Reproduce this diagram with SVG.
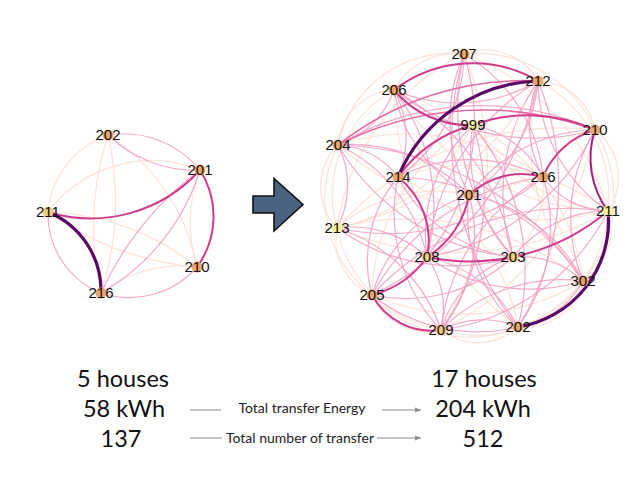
<svg xmlns="http://www.w3.org/2000/svg" width="639" height="479" viewBox="0 0 639 479">
<defs>
<style>
.e{fill:none;stroke-linecap:round}
.fa{stroke:#fbd9cc;stroke-width:1.2;opacity:.75}
.pk{stroke:#f09cc2;stroke-width:1.2;opacity:.85}
.mp{stroke:#e46aa4;stroke-width:1.6}
.mg{stroke:#d03c8d;stroke-width:2}
.pu{stroke:#a3207f;stroke-width:2}
.dk{stroke:#5a0866;stroke-width:3.2}
.or{fill:#eca66b}
.lt{fill:#f2cc86}
.ye{fill:#f7f19c}
.lbl{font-family:"Liberation Sans",Arial,sans-serif;font-size:15px;fill:#111;text-anchor:middle}
.big{font-family:Lato,"Open Sans",sans-serif;font-size:23.5px;fill:#111;text-anchor:middle}
.sm{font-family:Lato,"Open Sans",sans-serif;font-size:14px;fill:#222;text-anchor:middle}
.gl{stroke:#8c8c8c;stroke-width:1;fill:none}
</style>
<marker id="ah" viewBox="0 0 10 10" refX="10" refY="5" markerWidth="6" markerHeight="6" orient="auto" markerUnits="userSpaceOnUse">
<path d="M0 1 L10 5 L0 9 Z" fill="#8c8c8c"/>
</marker>
</defs>
<rect width="639" height="479" fill="#fff"/>

<g id="edges">
<g id="small-edges" class="e">
<path class="fa" d="M108 135 A90 90 0 0 0 48 212"/>
<path class="fa" d="M108 135 A300 300 0 0 0 101 293"/>
<path class="fa" d="M108 135 A300 300 0 0 1 101 293"/>
<path class="fa" d="M108 135 A200 200 0 0 1 197 267"/>
<path class="fa" d="M48 212 A130 130 0 0 1 200 170"/>
<path class="fa" d="M48 212 A300 300 0 0 0 197 267"/>
<path class="fa" d="M48 212 A250 250 0 0 1 197 267"/>
<path class="fa" d="M101 293 A130 130 0 0 1 197 267"/>
<path class="fa" d="M200 170 A150 150 0 0 0 197 267"/>
<path class="pk" d="M108 135 A99 99 0 0 1 200 170"/>
<path class="pk" d="M108 135 A125 125 0 0 0 200 170"/>
<path class="pk" d="M48 212 A85 85 0 0 0 101 293"/>
<path class="pk" d="M101 293 A215 215 0 0 0 200 170"/>
<path class="pk" d="M101 293 A320 320 0 0 1 200 170"/>
<path class="pk" d="M101 293 A90 90 0 0 0 197 267"/>
<path class="mg" d="M48 212 A147 147 0 0 0 200 170"/>
<path class="mg" d="M200 170 A86 86 0 0 1 197 267"/>
<path class="dk" d="M48 212 A85 85 0 0 1 101 293"/>
</g>
<g id="big-edges" class="e">
<path class="fa" d="M464 54 A70 70 0 0 0 394 90"/>
<path class="fa" d="M394 90 A60 60 0 0 0 338 145"/>
<path class="fa" d="M338 145 A60 60 0 0 0 337 228"/>
<path class="fa" d="M337 228 A60 60 0 0 0 372 295"/>
<path class="fa" d="M372 295 A60 60 0 0 0 441 330"/>
<path class="fa" d="M441 330 A60 60 0 0 0 518 327"/>
<path class="fa" d="M518 327 A60 60 0 0 0 583 281"/>
<path class="fa" d="M583 281 A60 60 0 0 0 608 211"/>
<path class="fa" d="M608 211 A60 60 0 0 0 595 130"/>
<path class="fa" d="M595 130 A60 60 0 0 0 538 81"/>
<path class="fa" d="M538 81 A60 60 0 0 0 464 54"/>
<path class="fa" d="M464 54 A115 115 0 0 0 338 145"/>
<path class="fa" d="M394 90 A120 120 0 0 0 337 228"/>
<path class="fa" d="M338 145 A120 120 0 0 0 372 295"/>
<path class="fa" d="M337 228 A130 130 0 0 0 441 330"/>
<path class="fa" d="M372 295 A130 130 0 0 0 518 327"/>
<path class="fa" d="M441 330 A130 130 0 0 0 583 281"/>
<path class="fa" d="M518 327 A130 130 0 0 0 608 211"/>
<path class="fa" d="M583 281 A130 130 0 0 0 595 130"/>
<path class="fa" d="M608 211 A130 130 0 0 0 538 81"/>
<path class="fa" d="M595 130 A130 130 0 0 0 464 54"/>
<path class="fa" d="M538 81 A130 130 0 0 0 394 90"/>
<path class="fa" d="M464 54 A230 230 0 0 1 608 211"/>
<path class="fa" d="M464 54 A230 230 0 0 0 337 228"/>
<path class="fa" d="M538 81 A300 300 0 0 1 337 228"/>
<path class="fa" d="M538 81 A220 220 0 0 0 583 281"/>
<path class="fa" d="M394 90 A300 300 0 0 1 583 281"/>
<path class="fa" d="M394 90 A260 260 0 0 0 608 211"/>
<path class="fa" d="M473 125 A200 200 0 0 1 337 228"/>
<path class="fa" d="M473 125 A180 180 0 0 0 608 211"/>
<path class="fa" d="M473 125 A200 200 0 0 0 372 295"/>
<path class="fa" d="M398 177 A230 230 0 0 1 608 211"/>
<path class="fa" d="M337 228 A300 300 0 0 0 608 211"/>
<path class="fa" d="M337 228 A280 280 0 0 1 583 281"/>
<path class="fa" d="M427 257 A170 170 0 0 1 543 177"/>
<path class="fa" d="M513 257 A100 100 0 0 0 543 177"/>
<path class="fa" d="M469 195 A150 150 0 0 0 337 228"/>
<path class="fa" d="M469 195 A90 90 0 0 1 513 257"/>
<path class="fa" d="M372 295 A230 230 0 0 0 583 281"/>
<path class="fa" d="M595 130 A280 280 0 0 1 441 330"/>
<path class="fa" d="M595 130 A300 300 0 0 0 337 228"/>
<path class="fa" d="M338 145 A230 230 0 0 1 543 177"/>
<path class="fa" d="M338 145 A300 300 0 0 0 608 211"/>
<path class="fa" d="M464 54 A300 300 0 0 1 441 330"/>
<path class="fa" d="M394 90 A300 300 0 0 0 518 327"/>
<path class="fa" d="M473 125 A200 200 0 0 1 583 281"/>
<path class="fa" d="M398 177 A200 200 0 0 1 518 327"/>

<path class="pk" d="M464 54 A150 150 0 0 1 398 177"/>
<path class="pk" d="M464 54 A160 160 0 0 0 469 195"/>
<path class="pk" d="M464 54 A220 220 0 0 1 427 257"/>
<path class="pk" d="M464 54 A230 230 0 0 0 513 257"/>
<path class="pk" d="M464 54 A300 300 0 0 0 518 327"/>
<path class="pk" d="M464 54 A160 160 0 0 1 543 177"/>
<path class="pk" d="M538 81 A160 160 0 0 1 394 90"/>
<path class="pk" d="M538 81 A110 110 0 0 0 543 177"/>
<path class="pk" d="M538 81 A150 150 0 0 1 469 195"/>
<path class="pk" d="M538 81 A200 200 0 0 0 513 257"/>
<path class="pk" d="M538 81 A270 270 0 0 1 518 327"/>
<path class="pk" d="M538 81 A230 230 0 0 0 427 257"/>
<path class="pk" d="M538 81 A300 300 0 0 1 372 295"/>
<path class="pk" d="M394 90 A90 90 0 0 1 338 145"/>
<path class="pk" d="M394 90 A190 190 0 0 1 427 257"/>
<path class="pk" d="M394 90 A230 230 0 0 0 595 130"/>
<path class="pk" d="M394 90 A230 230 0 0 1 513 257"/>
<path class="pk" d="M473 125 A150 150 0 0 0 427 257"/>
<path class="pk" d="M473 125 A230 230 0 0 1 518 327"/>
<path class="pk" d="M473 125 A230 230 0 0 1 441 330"/>
<path class="pk" d="M473 125 A150 150 0 0 0 513 257"/>
<path class="pk" d="M595 130 A280 280 0 0 0 338 145"/>
<path class="pk" d="M595 130 A230 230 0 0 1 427 257"/>
<path class="pk" d="M595 130 A170 170 0 0 0 583 281"/>
<path class="pk" d="M595 130 A160 160 0 0 0 469 195"/>
<path class="pk" d="M338 145 A80 80 0 0 1 398 177"/>
<path class="pk" d="M338 145 A90 90 0 0 1 337 228"/>
<path class="pk" d="M338 145 A230 230 0 0 0 513 257"/>
<path class="pk" d="M338 145 A300 300 0 0 1 583 281"/>
<path class="pk" d="M338 145 A160 160 0 0 1 427 257"/>
<path class="pk" d="M398 177 A170 170 0 0 0 441 330"/>
<path class="pk" d="M398 177 A130 130 0 0 0 372 295"/>
<path class="pk" d="M398 177 A150 150 0 0 0 513 257"/>
<path class="pk" d="M398 177 A230 230 0 0 1 583 281"/>
<path class="pk" d="M398 177 A160 160 0 0 1 543 177"/>
<path class="pk" d="M543 177 A200 200 0 0 0 441 330"/>
<path class="pk" d="M543 177 A170 170 0 0 1 518 327"/>
<path class="pk" d="M543 177 A230 230 0 0 0 372 295"/>
<path class="pk" d="M543 177 A80 80 0 0 0 608 211"/>
<path class="pk" d="M469 195 A150 150 0 0 1 441 330"/>
<path class="pk" d="M469 195 A150 150 0 0 0 372 295"/>
<path class="pk" d="M469 195 A150 150 0 0 0 518 327"/>
<path class="pk" d="M469 195 A160 160 0 0 1 583 281"/>
<path class="pk" d="M608 211 A120 120 0 0 0 513 257"/>
<path class="pk" d="M608 211 A220 220 0 0 1 441 330"/>
<path class="pk" d="M608 211 A270 270 0 0 0 372 295"/>
<path class="pk" d="M337 228 A110 110 0 0 1 427 257"/>
<path class="pk" d="M337 228 A200 200 0 0 0 513 257"/>
<path class="pk" d="M427 257 A130 130 0 0 1 518 327"/>
<path class="pk" d="M427 257 A180 180 0 0 0 583 281"/>
<path class="pk" d="M427 257 A90 90 0 0 1 441 330"/>
<path class="pk" d="M513 257 A160 160 0 0 1 372 295"/>
<path class="pk" d="M513 257 A110 110 0 0 0 441 330"/>
<path class="pk" d="M513 257 A90 90 0 0 1 583 281"/>
<path class="pk" d="M583 281 A170 170 0 0 0 441 330"/>
<path class="pk" d="M583 281 A90 90 0 0 1 518 327"/>
<path class="pk" d="M372 295 A170 170 0 0 0 518 327"/>
<path class="pk" d="M441 330 A90 90 0 0 1 518 327"/>
<path class="pk" d="M394 90 A100 100 0 0 1 398 177"/>
<path class="pk" d="M337 228 A160 160 0 0 1 441 330"/>
<path class="pk" d="M337 228 A240 240 0 0 0 543 177"/>
<path class="pk" d="M338 145 A160 160 0 0 1 469 195"/>
<path class="pk" d="M473 125 A100 100 0 0 1 543 177"/>
<path class="pk" d="M538 81 A160 160 0 0 0 608 211"/>
<path class="pk" d="M394 90 A150 150 0 0 0 469 195"/>

<path class="mp" d="M338 145 A300 300 0 0 1 538 81"/>
<path class="mp" d="M338 145 A320 320 0 0 1 595 130"/>

<path class="mg" d="M394 90 A129 129 0 0 1 538 81"/>
<path class="mg" d="M398 177 A133 133 0 0 1 473 125"/>
<path class="mg" d="M394 90 A97 97 0 0 0 473 125"/>
<path class="mg" d="M473 125 A161 161 0 0 1 595 130"/>
<path class="mg" d="M595 130 A80 80 0 0 0 543 177"/>
<path class="mg" d="M543 177 A77 77 0 0 0 469 195"/>
<path class="mg" d="M398 177 A81 81 0 0 1 427 257"/>
<path class="mg" d="M427 257 A92 92 0 0 0 469 195"/>
<path class="mg" d="M427 257 A214 214 0 0 0 608 211"/>
<path class="mg" d="M372 295 A96 96 0 0 0 427 257"/>
<path class="mg" d="M372 295 A68 68 0 0 0 441 330"/>
<path class="pu" d="M595 130 A89 89 0 0 0 608 211"/>

<path class="dk" d="M538 81 A157 157 0 0 0 398 177"/>
<path class="dk" d="M608 211 A107 107 0 0 1 518 327"/>
</g>
<g id="stat-lines">
<line class="gl" x1="190" y1="410" x2="221" y2="410"/>
<line class="gl" x1="382" y1="410" x2="421" y2="410" marker-end="url(#ah)"/>
<line class="gl" x1="190" y1="438" x2="222" y2="438"/>
<line class="gl" x1="377" y1="438" x2="421" y2="438" marker-end="url(#ah)"/>
</g>
</g>

<g id="s202"><circle class="or" cx="108" cy="135" r="5.5"/><text class="lbl" x="108" y="140">202</text></g>
<g id="s201"><circle class="or" cx="200" cy="170" r="5.5"/><text class="lbl" x="200" y="175">201</text></g>
<g id="s211"><circle class="lt" cx="48" cy="212" r="5.5"/><text class="lbl" x="48" y="217">211</text></g>
<g id="s210"><circle class="or" cx="197" cy="267" r="5.5"/><text class="lbl" x="197" y="272">210</text></g>
<g id="s216"><circle class="or" cx="101" cy="293" r="5.5"/><text class="lbl" x="101" y="298">216</text></g>

<g id="b207"><circle class="or" cx="464" cy="54" r="5.5"/><text class="lbl" x="464" y="59">207</text></g>
<g id="b212"><circle class="or" cx="538" cy="81" r="5.5"/><text class="lbl" x="538" y="86">212</text></g>
<g id="b206"><circle class="or" cx="394" cy="90" r="5.5"/><text class="lbl" x="394" y="95">206</text></g>
<g id="b999"><circle class="ye" cx="473" cy="125" r="5.5"/><text class="lbl" x="473" y="130">999</text></g>
<g id="b210"><circle class="or" cx="595" cy="130" r="5.5"/><text class="lbl" x="595" y="135">210</text></g>
<g id="b204"><circle class="or" cx="338" cy="145" r="5.5"/><text class="lbl" x="338" y="150">204</text></g>
<g id="b214"><circle class="or" cx="398" cy="177" r="5.5"/><text class="lbl" x="398" y="182">214</text></g>
<g id="b216"><circle class="or" cx="543" cy="177" r="5.5"/><text class="lbl" x="543" y="182">216</text></g>
<g id="b201"><circle class="or" cx="469" cy="195" r="5.5"/><text class="lbl" x="469" y="200">201</text></g>
<g id="b211"><circle class="ye" cx="608" cy="211" r="5.5"/><text class="lbl" x="608" y="216">211</text></g>
<g id="b213"><circle class="ye" cx="337" cy="228" r="5.5"/><text class="lbl" x="337" y="233">213</text></g>
<g id="b208"><circle class="lt" cx="427" cy="257" r="5.5"/><text class="lbl" x="427" y="262">208</text></g>
<g id="b203"><circle class="lt" cx="513" cy="257" r="5.5"/><text class="lbl" x="513" y="262">203</text></g>
<g id="b302"><circle class="or" cx="583" cy="281" r="5.5"/><text class="lbl" x="583" y="286">302</text></g>
<g id="b205"><circle class="or" cx="372" cy="295" r="5.5"/><text class="lbl" x="372" y="300">205</text></g>
<g id="b209"><circle class="lt" cx="441" cy="330" r="5.5"/><text class="lbl" x="441" y="335">209</text></g>
<g id="b202"><circle class="or" cx="518" cy="327" r="5.5"/><text class="lbl" x="518" y="332">202</text></g>

<g id="block-arrow">
<polygon points="253,196 274,196 274,178.5 303,204.5 274,231 274,213 253,213" fill="#4c6282" stroke="#111" stroke-width="1.6" stroke-linejoin="miter"/>
</g>

<g id="stats">
<text class="big" x="123" y="387">5 houses</text>
<text class="big" x="124" y="417">58 kWh</text>
<text class="big" x="121" y="447">137</text>
<text class="big" x="484" y="387">17 houses</text>
<text class="big" x="483" y="417">204 kWh</text>
<text class="big" x="483" y="447">512</text>
<text class="sm" x="302" y="413">Total transfer Energy</text>
<text class="sm" x="300" y="443">Total number of transfer</text>
</g>
</svg>
